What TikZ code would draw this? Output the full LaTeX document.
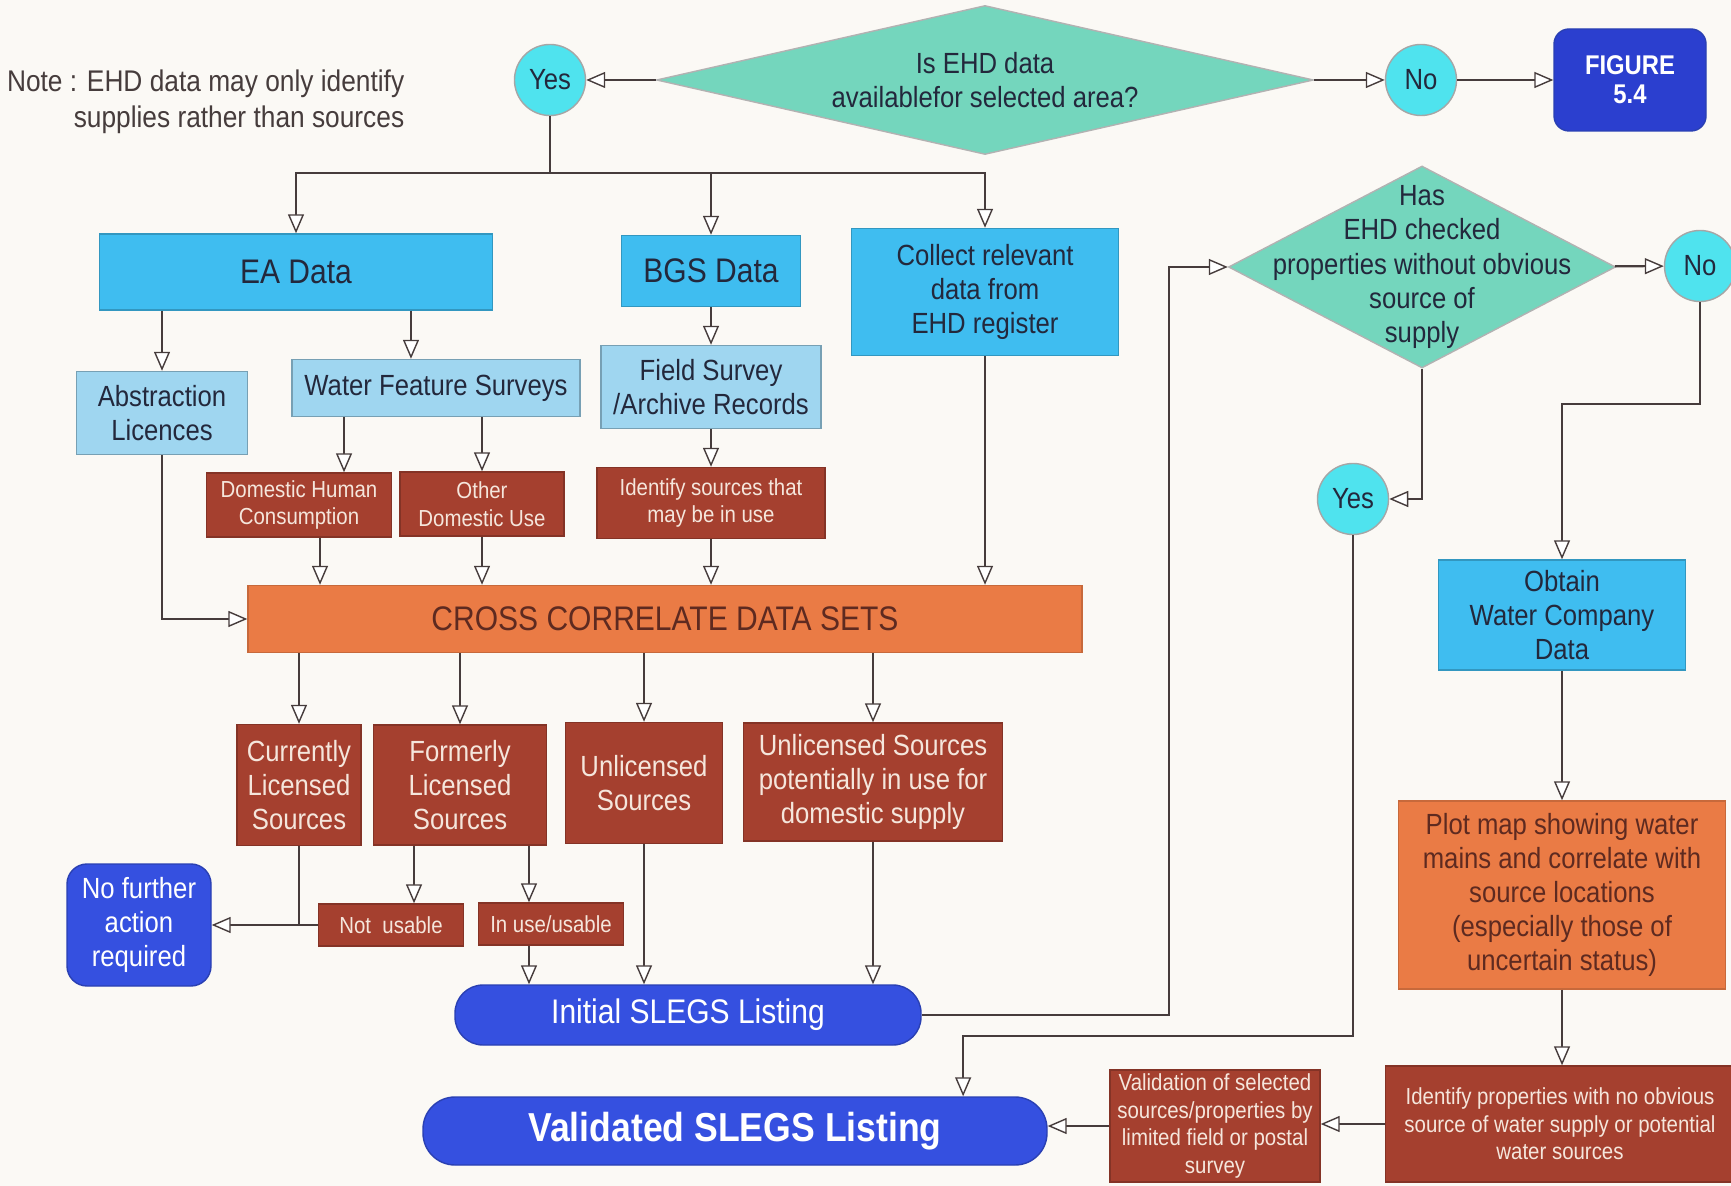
\documentclass[tikz,border=0pt]{standalone}
\usepackage{fontspec}
\setmainfont{Liberation Sans}[FakeStretch=0.88]
\usetikzlibrary{arrows.meta,shapes.geometric}
\definecolor{paper}{HTML}{FBF9F5}
\definecolor{sky}{HTML}{3FBDF0}
\definecolor{pale}{HTML}{9FD6F0}
\definecolor{brick}{HTML}{A5402F}
\definecolor{amber}{HTML}{EA7B45}
\definecolor{mint}{HTML}{74D6BD}
\definecolor{aqua}{HTML}{4FE3EE}
\definecolor{royal}{HTML}{3550E0}
\definecolor{deepblue}{HTML}{2B3FCF}
\definecolor{ink}{HTML}{463C3C}
\definecolor{cream}{HTML}{F5E6DC}
\definecolor{darktext}{HTML}{23283C}
\definecolor{rust}{HTML}{5E2A20}
\tikzset{
  wh/.style 2 args={minimum width=#1*0.01cm, minimum height=#2*0.01cm},
  txt/.style={font=\fontsize{8.3}{9.7}\selectfont},
  big/.style={font=\fontsize{9.7}{11}\selectfont},
  small/.style={font=\fontsize{6.6}{7.85}\selectfont},
  box/.style={rectangle, inner sep=0pt, align=center, line width=0.4pt, txt},
  skybox/.style={box, fill=sky, draw=sky!80!black, text=darktext},
  palebox/.style={box, fill=pale, draw=pale!75!black, text=darktext},
  brickbox/.style={box, fill=brick, draw=brick!80!black, text=cream},
  amberbox/.style={box, fill=amber, draw=amber!85!black, text=rust},
  yesno/.style={circle, inner sep=0pt, minimum size=0.71cm, fill=aqua,
    draw=gray!70, line width=0.4pt, txt, text=darktext},
  decision/.style={diamond, inner sep=0pt, align=center, fill=mint,
    draw=gray!60, line width=0.4pt, txt, text=darktext},
  terminal/.style={rectangle, rounded corners=0.15cm, inner sep=0pt,
    align=center, fill=royal, draw=royal!80!black, line width=0.4pt,
    text=white}
}
\begin{document}
\begin{tikzpicture}[x=0.01cm,y=-0.01cm,->,>={Triangle[length=0.19cm,width=0.16cm,fill=white,line width=0.4pt]},
    line width=0.6pt,color=ink]
        \path[-,fill=paper,use as bounding box] (0,0) rectangle (1731,1186);
        \node[align=right, anchor=east, text=ink, font=\fontsize{8.5}{10.2}\selectfont] (note) at (417,102)
          {Note : EHD data may only identify\\supplies rather than sources};
        \node[decision, wh={657}{149}, aspect=4.4] (avail) at (985,80) {Is EHD data\\availablefor selected area?};
        \node[yesno] (yes1) at (550,80) {Yes};
        \node[yesno] (no1) at (1421,80) {No};
        \node[terminal, wh={152}{102}, fill=deepblue, font=\bfseries\fontsize{7.7}{8.3}\selectfont] (fig) at (1630,80) {FIGURE\\5.4};
        \node[skybox, big, wh={393}{76}] (ea) at (296,272) {EA Data};
        \node[skybox, big, wh={179}{71}] (bgs) at (711,271) {BGS Data};
        \node[skybox, wh={267}{127}] (coll) at (985,292) {Collect relevant\\data from\\EHD register};
        \node[palebox, wh={171}{83}] (abs) at (162,413) {Abstraction\\Licences};
        \node[palebox, wh={288}{57}] (wfs) at (436,388) {Water Feature Surveys};
        \node[palebox, wh={220}{83}] (fsr) at (711,387) {Field Survey\\/Archive Records};
        \node[brickbox, small, wh={185}{64}] (dhc) at (299,505) {Domestic Human\\Consumption};
        \node[brickbox, small, wh={164}{64}] (odu) at (482,504) {Other\\Domestic Use};
        \node[brickbox, small, wh={228}{71}] (isu) at (711,503) {Identify sources that\\may be in use};
        \node[amberbox, big, wh={834}{67}] (ccds) at (665,619) {CROSS CORRELATE DATA SETS};
        \node[brickbox, wh={124}{121}] (cls) at (299,785) {Currently\\Licensed\\Sources};
        \node[brickbox, wh={173}{120}] (fls) at (460,785) {Formerly\\Licensed\\Sources};
        \node[brickbox, wh={157}{121}] (uls) at (644,783) {Unlicensed\\Sources};
        \node[brickbox, wh={259}{118}] (ulp) at (873,782) {Unlicensed Sources\\potentially in use for\\domestic supply};
        \node[brickbox, small, wh={145}{42}] (nu) at (391,925) {Not~ usable};
        \node[brickbox, small, wh={145}{42}] (iu) at (551,924) {In use/usable};
        \node[terminal, txt, wh={144}{122}, rounded corners=0.2cm] (nfa) at (139,925) {No further\\action\\required};
        \node[terminal, big, wh={466}{60}, rounded corners=0.28cm] (init) at (688,1015) {Initial SLEGS Listing};
        \node[terminal, wh={624}{68}, rounded corners=0.32cm, font=\bfseries\fontsize{11.5}{13}\selectfont] (val) at (735,1131)
          {Validated SLEGS Listing};
        \node[decision, wh={387}{202},
          label={[txt, text=darktext, align=center]center:Has\\EHD checked\\properties without obvious\\source of\\supply}]
          (has) at (1422,267) {};
        \node[yesno] (no2) at (1700,266) {No};
        \node[yesno] (yes2) at (1353,499) {Yes};
        \node[skybox, wh={247}{110}] (obt) at (1562,615) {Obtain\\Water Company\\Data};
        \node[amberbox, wh={327}{188}] (plot) at (1562,895)
          {Plot map showing water\\mains and correlate with\\source locations\\(especially those of\\uncertain status)};
        \node[brickbox, small, wh={349}{116}] (idp) at (1560,1124)
          {Identify properties with no obvious\\source of water supply or potential\\water sources};
        \node[brickbox, small, wh={210}{112}] (vsp) at (1215,1126)
          {Validation of selected\\sources/properties by\\limited field or postal\\survey};
        \coordinate (split) at (550,173);
        \coordinate (wfsin) at ([xshift=-0.25cm]wfs.north);
        \coordinate (dhcin) at ([xshift=0.45cm]dhc.north);
        \coordinate (dhcout) at ([xshift=0.21cm]dhc.south);
        \coordinate (nuin) at ([xshift=0.23cm]nu.north);
        \coordinate (iuin) at ([xshift=-0.22cm]iu.north);
        \coordinate (valin) at ([xshift=2.28cm]val.north);
        \draw (avail) -- (yes1);
        \draw (avail) -- (no1);
        \draw (no1) -- (fig);
        \draw[-] (yes1) -- (split);
        \draw (split) -| (ea);
        \draw (split) -| (bgs);
        \draw (split) -| (coll);
        \draw (abs.north |- ea.south) -- (abs);
        \draw (wfsin |- ea.south) -- (wfsin);
        \draw (bgs) -- (fsr);
        \draw (dhcin |- wfs.south) -- (dhcin);
        \draw (odu.north |- wfs.south) -- (odu);
        \draw (fsr) -- (isu);
        \draw (dhcout) -- (dhcout |- ccds.north);
        \draw (odu) -- (odu |- ccds.north);
        \draw (isu) -- (isu |- ccds.north);
        \draw (coll) -- (coll |- ccds.north);
        \draw (abs) |- (ccds);
        \draw (cls.north |- ccds.south) -- (cls);
        \draw (fls.north |- ccds.south) -- (fls);
        \draw (uls.north |- ccds.south) -- (uls);
        \draw (ulp.north |- ccds.south) -- (ulp);
        \draw (cls) |- (nfa);
        \draw[-] (nu) -- (nu -| cls);
        \draw (nuin |- fls.south) -- (nuin);
        \draw (iuin |- fls.south) -- (iuin);
        \draw (iuin |- iu.south) -- (iuin |- init.north);
        \draw (uls) -- (uls |- init.north);
        \draw (ulp) -- (ulp |- init.north);
        \draw (init.east) -- ++(247,0) |- (has);
        \draw (has) -- (no2);
        \draw (has) |- (yes2);
        \draw (no2) -- ++(0,138) -| (obt);
        \draw (yes2) -- ++(0,537) -| (valin);
        \draw (obt) -- (plot);
        \draw (plot) -- (plot |- idp.north);
        \draw (idp.west) -- (idp.west -| vsp.east);
        \draw (vsp) -- (vsp -| val.east);
      \end{tikzpicture}
\end{document}
